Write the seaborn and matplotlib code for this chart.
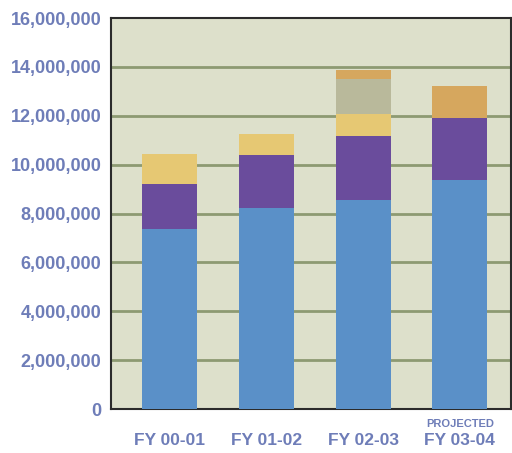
import matplotlib
matplotlib.use("Agg")
import matplotlib.pyplot as plt
import seaborn as sns
import numpy as np
from matplotlib.transforms import offset_copy

categories = ["FY 00-01", "FY 01-02", "FY 02-03", "FY 03-04"]
blue_vals = [7.38e6, 8.24e6, 8.57e6, 9.39e6]
purple_vals = [1.84e6, 2.17e6, 2.62e6, 2.50e6]
yellow_vals = [1.23e6, 0.86e6, 0.90e6, 0.0]
gray_vals = [0.0, 0.0, 1.43e6, 0.0]
tan_vals = [0.0, 0.0, 0.37e6, 1.31e6]
yticks = [0, 2e6, 4e6, 6e6, 8e6, 10e6, 12e6, 14e6, 16e6]
ytick_labels = ["0", "2,000,000", "4,000,000", "6,000,000", "8,000,000",
                "10,000,000", "12,000,000", "14,000,000", "16,000,000"]
note_text = "PROJECTED"

sns.set_theme(style="white")
plt.rcParams["font.family"] = ["Liberation Sans", "DejaVu Sans"]

label_color = "#6e7db8"
fig = plt.figure(figsize=(5.12, 4.53), dpi=100)
ax = fig.add_axes([111/512, (453-409)/453, 400/512, (409-18)/453])
ax.set_facecolor("#dde0cb")

series = [
    (blue_vals, "#5a90c8"),
    (purple_vals, "#6a4c9c"),
    (yellow_vals, "#e6c873"),
    (gray_vals, "#b9b99b"),
    (tan_vals, "#d6a75e"),
]
bottom = np.zeros(len(categories))
for vals, col in series:
    v = np.array(vals)
    sns.barplot(x=categories, y=v, bottom=bottom, color=col, width=0.57,
                ax=ax, linewidth=0, saturation=1)
    bottom = bottom + v

for p in ax.patches:
    p.set_zorder(3)

ax.set_ylim(0, 16e6)
ax.set_xlim(-0.61, 3.53)
ax.set_yticks(yticks)
ax.set_yticklabels(ytick_labels)
for y in yticks[1:-1]:
    ax.axhline(y, color="#8d9a72", lw=2, zorder=1)

for s in ax.spines.values():
    s.set_visible(True)
    s.set_color("#2b2b2b")
    s.set_linewidth(1.5)

ax.tick_params(axis="y", length=0, pad=7, labelsize=13, labelcolor=label_color)
ax.tick_params(axis="x", length=0, pad=17, labelcolor=label_color)
for t in ax.get_yticklabels():
    t.set_fontweight("bold")
for t in ax.get_xticklabels():
    t.set_fontweight("bold")
    t.set_fontsize(12.5)
ax.set_xlabel("")
ax.set_ylabel("")

ax.text(3, 0.0, note_text, ha="center", va="top",
        fontsize=8, fontweight="bold", color=label_color,
        transform=offset_copy(ax.transData, fig=fig, x=0, y=-7, units="points"))

fig.savefig("out.png", dpi=100)
